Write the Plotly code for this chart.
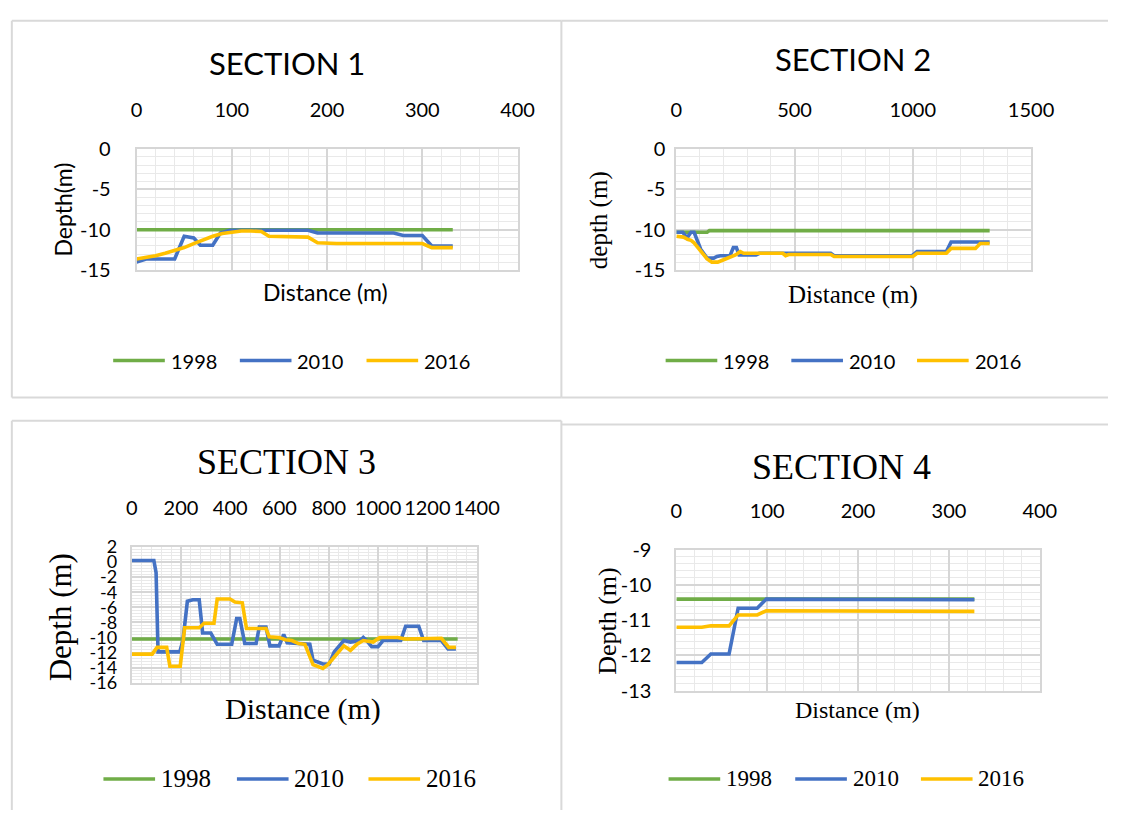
import plotly.graph_objects as go

W, H = 1131, 821

# ---- Section 1 ----
s1_x_1998 = [0, 332]
s1_y_1998 = [-10, -10]
s1_x_2010 = [0, 10, 40, 50, 60, 67, 80, 88, 98, 180, 190, 270, 280, 300, 310, 332]
s1_y_2010 = [-14, -13.6, -13.6, -10.8, -11, -11.9, -11.9, -10.4, -10.05, -10.05, -10.4, -10.4, -10.7, -10.7, -12, -12]
s1_x_2016 = [0, 10, 20, 30, 40, 50, 60, 70, 80, 90, 100, 110, 120, 131, 139, 160, 180, 190, 210, 300, 310, 332]
s1_y_2016 = [-13.6, -13.45, -13.2, -12.9, -12.6, -12.2, -11.7, -11.2, -10.8, -10.45, -10.25, -10.15, -10.15, -10.2, -10.8, -10.9, -10.9, -11.6, -11.7, -11.7, -12.2, -12.2]

# ---- Section 2 ----
s2_x_1998 = [0, 130, 140, 1325]
s2_y_1998 = [-10.3, -10.3, -10.1, -10.1]
s2_x_2010 = [0, 27, 45, 62, 75, 90, 103, 130, 158, 172, 186, 227, 241, 254, 265, 337, 351, 653, 667, 997, 1018, 1142, 1162, 1325]
s2_y_2010 = [-10.3, -10.3, -11, -10.3, -10.3, -11.6, -12.4, -13.5, -13.5, -13.3, -13.2, -13.2, -12.2, -12.2, -13.1, -13.1, -12.9, -12.9, -13.2, -13.2, -12.7, -12.7, -11.5, -11.5]
s2_x_2016 = [0, 30, 50, 62, 75, 100, 130, 150, 175, 200, 225, 250, 270, 285, 450, 462, 475, 653, 667, 1000, 1018, 1142, 1162, 1265, 1285, 1325]
s2_y_2016 = [-10.8, -10.9, -11.2, -11.3, -11.6, -12.5, -13.6, -14, -14, -13.7, -13.4, -13.1, -12.7, -12.9, -12.9, -13.2, -13.05, -13.05, -13.3, -13.3, -12.9, -12.9, -12.3, -12.3, -11.7, -11.7]

# ---- Section 3 ----
s3_x_1998 = [0, 1323]
s3_y_1998 = [-10.2, -10.2]
s3_x_2010 = [0, 90, 99, 107, 195, 208, 226, 248, 274, 288, 321, 347, 406, 426, 439, 459, 505, 518, 545, 561, 598, 617, 631, 703, 723, 736, 776, 802, 822, 861, 888, 927, 940, 954, 974, 1000, 1020, 1092, 1112, 1165, 1185, 1257, 1284, 1316]
s3_y_2010 = [0.2, 0.2, -1.4, -11.9, -11.9, -10.4, -5.2, -5, -5, -9.4, -9.4, -10.9, -10.9, -7.5, -7.5, -10.8, -10.8, -8.6, -8.6, -11.1, -11.1, -9.6, -10.7, -10.9, -10.9, -13, -13.5, -13.5, -11.9, -10.4, -10.6, -10.4, -10, -10.4, -11.2, -11.2, -10.4, -10.4, -8.5, -8.5, -10.4, -10.4, -11.5, -11.5]
s3_x_2016 = [0, 83, 103, 142, 155, 197, 215, 274, 294, 334, 347, 399, 419, 449, 466, 545, 558, 598, 624, 650, 677, 703, 736, 776, 796, 822, 861, 888, 914, 940, 980, 1007, 1079, 1112, 1185, 1257, 1287, 1316]
s3_y_2016 = [-12.2, -12.2, -11.3, -11.3, -13.8, -13.8, -8.7, -8.7, -8.1, -8.1, -4.9, -4.9, -5.3, -5.4, -8.8, -8.8, -9.9, -10, -10.3, -10.4, -10.8, -10.9, -13.6, -14.1, -13.6, -12.6, -11.1, -11.7, -10.9, -10.4, -10.6, -10, -10, -10.2, -10.1, -10.1, -11.3, -11.3]

# ---- Section 4 ----
s4_x_1998 = [0, 328]
s4_y_1998 = [-10.4, -10.4]
s4_x_2010 = [0, 28, 38, 58, 68, 89, 99, 287, 298, 328]
s4_y_2010 = [-12.2, -12.2, -11.96, -11.96, -10.66, -10.66, -10.4, -10.4, -10.42, -10.42]
s4_x_2016 = [0, 28, 38, 58, 68, 89, 99, 287, 298, 328]
s4_y_2016 = [-11.2, -11.2, -11.16, -11.16, -10.85, -10.85, -10.73, -10.73, -10.75, -10.75]

# ---- tick labels ----
x_ticks_400 = [0, 100, 200, 300, 400]
x_ticks_1500 = [0, 500, 1000, 1500]
x_ticks_1400 = [0, 200, 400, 600, 800, 1000, 1200, 1400]
y_ticks_15 = [0, -5, -10, -15]
y_ticks_16 = [2, 0, -2, -4, -6, -8, -10, -12, -14, -16]
y_ticks_13 = [-9, -10, -11, -12, -13]

years = ["1998", "2010", "2016"]
colors = {"1998": "#70AD47", "2010": "#4472C4", "2016": "#FFC000"}

SANS = "Lato"
SERIF = "Liberation Serif"


def px_x(p):
    return p / W


def px_y(p):
    return 1 - p / H


def label(v):
    return str(v).replace("\u2212", "-")


fig = go.Figure()

panels = [
    (1, [s1_x_1998, s1_x_2010, s1_x_2016], [s1_y_1998, s1_y_2010, s1_y_2016]),
    (2, [s2_x_1998, s2_x_2010, s2_x_2016], [s2_y_1998, s2_y_2010, s2_y_2016]),
    (3, [s3_x_1998, s3_x_2010, s3_x_2016], [s3_y_1998, s3_y_2010, s3_y_2016]),
    (4, [s4_x_1998, s4_x_2010, s4_x_2016], [s4_y_1998, s4_y_2010, s4_y_2016]),
]
for n, xs, ys in panels:
    suffix = "" if n == 1 else str(n)
    for yr, xv, yv in zip(years, xs, ys):
        fig.add_trace(go.Scatter(
            x=xv, y=yv, mode="lines", name=yr, showlegend=False,
            line=dict(color=colors[yr], width=3.6),
            xaxis="x" + suffix, yaxis="y" + suffix,
            hoverinfo="skip",
        ))

GRID = "#D6D6D6"
MINOR = "#E9E9E9"


def make_x(left, right, anchor, rng, ticks, minor_dt, size):
    return dict(
        domain=[px_x(left), px_x(right)], anchor=anchor, side="top", range=rng,
        tickmode="array", tickvals=ticks, ticktext=[label(t) for t in ticks],
        showgrid=True, gridcolor=GRID, gridwidth=1.5,
        minor=dict(tickmode="linear", tick0=rng[0], dtick=minor_dt, showgrid=True,
                   gridcolor=MINOR, gridwidth=1.2, ticks=""),
        showline=True, linecolor=GRID, linewidth=1.8, mirror=True,
        ticks="outside", ticklen=22, tickcolor="rgba(0,0,0,0)",
        tickfont=dict(family=SANS, size=size, color="#000000"),
        zeroline=False,
    )


def make_y(top, bottom, anchor, rng, ticks, minor_dt, size, gap):
    return dict(
        domain=[px_y(bottom), px_y(top)], anchor=anchor, range=rng,
        tickmode="array", tickvals=ticks, ticktext=[label(t) for t in ticks],
        showgrid=True, gridcolor=GRID, gridwidth=1.5,
        minor=dict(tickmode="linear", tick0=rng[0], dtick=minor_dt, showgrid=True,
                   gridcolor=MINOR, gridwidth=1.2, ticks=""),
        showline=True, linecolor=GRID, linewidth=1.8, mirror=True,
        ticks="outside", ticklen=gap, tickcolor="rgba(0,0,0,0)",
        tickfont=dict(family=SANS, size=size, color="#000000"),
        zeroline=False,
    )


fig.update_layout(
    width=W, height=H, margin=dict(l=0, r=0, t=0, b=0),
    paper_bgcolor="white", plot_bgcolor="white",
    xaxis=make_x(134, 525, "y", [0, 400], x_ticks_400, 20, 20),
    yaxis=make_y(140, 265, "x", [-15, 0], y_ticks_15, 1, 20, 20),
    xaxis2=make_x(688, 1052, "y2", [0, 1500], x_ticks_1500, 100, 20),
    yaxis2=make_y(140, 265, "x2", [-15, 0], y_ticks_15, 1, 20, 5),
    xaxis3=make_x(129, 483, "y3", [0, 1400], x_ticks_1400, 40, 20),
    yaxis3=make_y(550, 690, "x3", [-16, 2], y_ticks_16, 0.4, 18, 9),
    xaxis4=make_x(688, 1061, "y4", [0, 400], x_ticks_400, 20, 20),
    yaxis4=make_y(553, 698, "x4", [-13, -9], y_ticks_13, 0.2, 20, 19),
)

# Panel frames, drawn edge by edge (the outer panels run off the page)
BORDER = "#D9D9D9"
frame_edges = [
    # section 1
    (6, 8, 570, 8), (6, 8, 6, 396), (6, 396, 570, 396), (570, 8, 570, 396),
    # section 2
    (570, 8, W, 8), (570, 396, W, 396),
    # section 3
    (6, 420, 570, 420), (6, 420, 6, H), (570, 420, 570, H),
    # section 4
    (570, 424, W, 424),
]
shapes = []
for x0, y0, x1, y1 in frame_edges:
    shapes.append(dict(type="line", xref="paper", yref="paper",
                       x0=px_x(x0), x1=px_x(x1), y0=px_y(y0), y1=px_y(y1),
                       line=dict(color=BORDER, width=2), layer="below"))

annotations = []


def text(t, x, y, family, size, angle=0, xanchor="center"):
    annotations.append(dict(text=t, x=px_x(x), y=px_y(y), xref="paper", yref="paper",
                            showarrow=False, xanchor=xanchor, yanchor="middle",
                            textangle=angle, font=dict(family=family, size=size, color="#000000")))


# Titles
text("SECTION 1", 288, 52, SANS, 31)
text("SECTION 2", 869, 47, SANS, 31)
text("SECTION 3", 288, 463, SERIF, 36)
text("SECTION 4", 857, 468, SERIF, 36)

# Axis titles
text("Depth(m)", 59, 202, SANS, 23, angle=-90)
text("Distance (m)", 328, 287, SANS, 23)
text("depth (m)", 608, 213, SERIF, 25, angle=-90)
text("Distance (m)", 869, 290, SERIF, 25)
text("Depth (m)", 56, 623, SERIF, 31, angle=-90)
text("Distance (m)", 305, 717, SERIF, 30)
text("Depth (m)", 618, 626, SERIF, 26, angle=-90)
text("Distance (m)", 874, 718, SERIF, 24)

# Legends: (swatch start positions, y, font, size)
legends = [
    ([110, 240, 370], 358, SANS, 20),
    ([677, 806, 935], 358, SANS, 20),
    ([100, 237, 372], 789, SERIF, 25),
    ([680, 810, 939], 789, SERIF, 23),
]
for starts, ly, fam, size in legends:
    for yr, sx in zip(years, starts):
        shapes.append(dict(type="line", xref="paper", yref="paper",
                           x0=px_x(sx), x1=px_x(sx + 53), y0=px_y(ly), y1=px_y(ly),
                           line=dict(color=colors[yr], width=3.6)))
        text(yr, sx + 57, ly, fam, size, xanchor="left")

fig.update_layout(shapes=shapes, annotations=annotations)

fig.write_html("out.html")
